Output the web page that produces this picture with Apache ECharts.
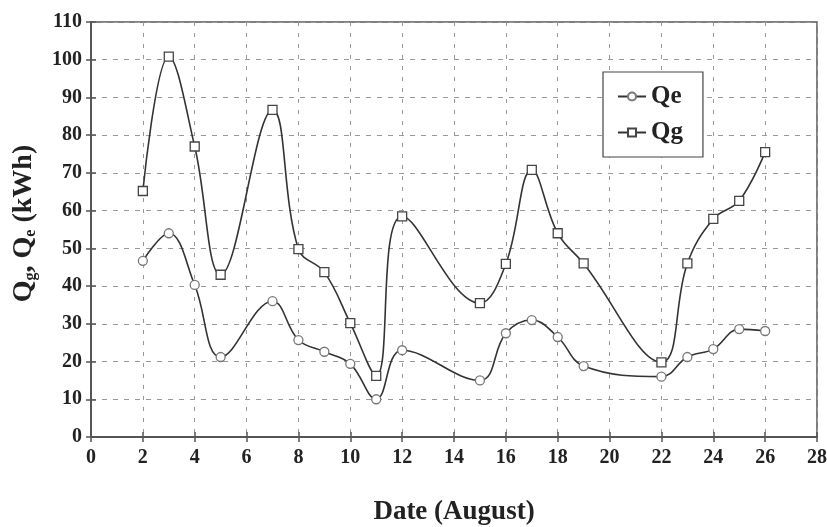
<!DOCTYPE html>
<html><head><meta charset="utf-8">
<script src="https://cdn.jsdelivr.net/npm/echarts@6/dist/echarts.min.js"></script>
<style>html,body{margin:0;padding:0;background:#fff}#c{width:827px;height:527px}</style>
</head><body><div id="c"></div>
<script>
var dates = [2,3,4,5,7,8,9,10,11,12,15,16,17,18,19,22,23,24,25,26];
var qe = [46.7,54,40.3,21.2,36,25.7,22.6,19.4,10,23,15,27.5,31,26.5,18.8,16,21.2,23.3,28.6,28.1];
var qg = [65.2,100.8,77,43,86.7,49.8,43.7,30.2,16.2,58.5,35.5,45.9,70.8,54,46,19.8,46,57.8,62.6,75.5];
var xTicks = {min:0,max:28,interval:2};
var yTicks = {min:0,max:110,interval:10};

function pairs(v){ return dates.map(function(d,i){ return [d, v[i]]; }); }
var font = 'Liberation Serif';
var axisCol = '#555';
var chart = echarts.init(document.getElementById('c'));
chart.setOption({
  animation:false,
  backgroundColor:'#fff',
  grid:{left:91,right:10,top:22,bottom:90,show:true,borderColor:axisCol,borderWidth:1.5,
        containLabel:false, outerBoundsMode:'none'},
  legend:{
    orient:'vertical', left:603, top:72,
    backgroundColor:'#fff', borderColor:'#444', borderWidth:1.2,
    padding:[12,20,12,14], itemGap:11, itemWidth:28, itemHeight:10,
    textStyle:{fontFamily:font,fontWeight:'bold',fontSize:25,color:'#222'},
    data:['Qe','Qg']
  },
  xAxis:[{
    type:'value', min:xTicks.min, max:xTicks.max, interval:xTicks.interval,
    name:'Date (August)', nameLocation:'middle', nameGap:62,
    nameTextStyle:{fontFamily:font,fontWeight:'bold',fontSize:27,color:'#222'},
    axisLine:{lineStyle:{color:axisCol,width:2}},
    axisTick:{length:5,lineStyle:{color:axisCol,width:1.5}},
    axisLabel:{fontFamily:font,fontWeight:'bold',fontSize:20,color:'#222',margin:11},
    splitLine:{show:true,lineStyle:{color:'#999',type:[4,7],width:1}}
  },{
    type:'value', min:xTicks.min, max:xTicks.max, interval:xTicks.interval, position:'bottom',
    axisLine:{show:false}, axisLabel:{show:false}, splitLine:{show:false},
    axisTick:{inside:true,length:5,lineStyle:{color:axisCol,width:1.5}}
  }],
  yAxis:[{
    type:'value', min:yTicks.min, max:yTicks.max, interval:yTicks.interval,
    name:'{b|Q}{s|g}{b|, Q}{s|e}{b| (kWh)}', nameLocation:'middle', nameGap:52, nameRotate:90,
    nameTextStyle:{padding:[0,0,0,12],rich:{
      b:{fontFamily:font,fontWeight:'bold',fontSize:28,color:'#222',lineHeight:30,verticalAlign:'middle'},
      s:{fontFamily:font,fontWeight:'bold',fontSize:16,color:'#222',lineHeight:30,verticalAlign:'bottom'}
    }},
    axisLine:{lineStyle:{color:axisCol,width:2}},
    axisTick:{length:5,lineStyle:{color:axisCol,width:1.5}},
    axisLabel:{fontFamily:font,fontWeight:'bold',fontSize:20,color:'#222',margin:9},
    splitLine:{show:true,lineStyle:{color:'#999',type:[5,6],width:1}}
  },{
    type:'value', min:yTicks.min, max:yTicks.max, interval:yTicks.interval, position:'left',
    axisLine:{show:false}, axisLabel:{show:false}, splitLine:{show:false},
    axisTick:{inside:true,length:5,lineStyle:{color:axisCol,width:1.5}}
  }],
  series:[{
    name:'Qe', type:'line', smooth:0.4, data:pairs(qe),
    symbol:'circle', symbolSize:9,
    itemStyle:{color:'#fff',borderColor:'#777',borderWidth:1.3},
    lineStyle:{color:'#333',width:1.6}
  },{
    name:'Qg', type:'line', smooth:0.4, data:pairs(qg),
    symbol:'rect', symbolSize:9,
    itemStyle:{color:'#fff',borderColor:'#444',borderWidth:1.3},
    lineStyle:{color:'#333',width:1.6}
  }]
});
</script></body></html>
